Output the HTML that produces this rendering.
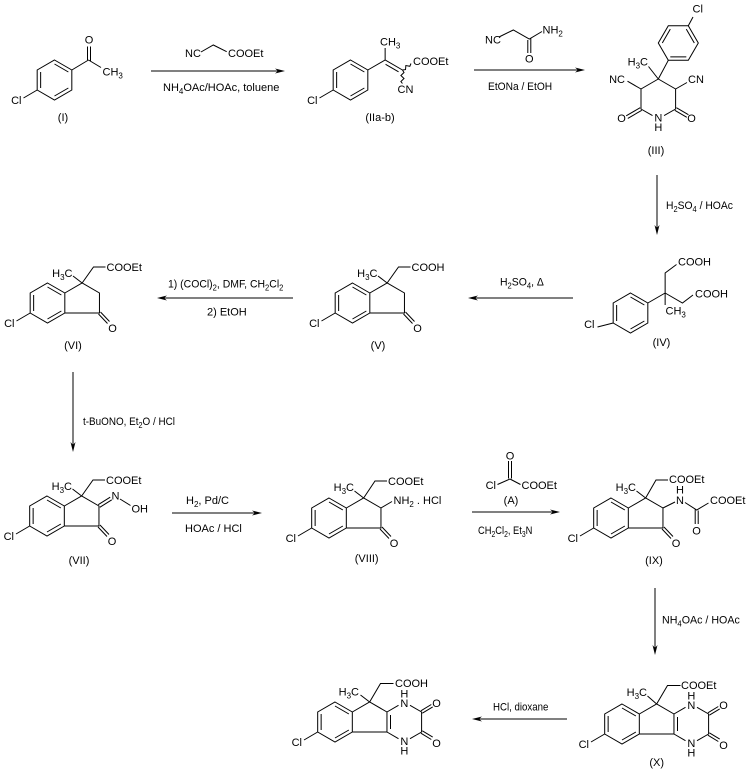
<!DOCTYPE html>
<html><head><meta charset="utf-8"><style>
html,body{margin:0;padding:0;background:#fff;}
svg{display:block;}
text{font-family:"Liberation Sans",Arial,sans-serif;font-size:11px;fill:#000;white-space:pre;}
.s{font-size:8px;}
.ln{stroke:#000;stroke-width:1;fill:none;}
.ah{fill:#000;stroke:none;}
</style></head><body>
<svg width="747" height="771" viewBox="0 0 747 771" xmlns="http://www.w3.org/2000/svg">

<!-- ===== Compound I ===== -->
<g transform="translate(54.5,80)">
<g class="ln">
<polygon points="0,-20 17.32,-10 17.32,10 0,20 -17.32,10 -17.32,-10"/>
<path d="M-13.86,-8L-13.86,8M0,-16L13.86,-8M13.86,8L0,16"/>
<path d="M-17.32,10L-31,18"/>
<path d="M17.32,-10L34,-20M33,-20L33,-33.5M36,-19L36,-33.5M34,-20L46.5,-12.5"/>
</g>
<text x="-33" y="24" text-anchor="end">Cl</text>
<text x="34.5" y="-36.5" text-anchor="middle">O</text>
<text x="48" y="-4.5">CH<tspan class="s" dy="3">3</tspan></text>
</g>
<text x="63" y="121" text-anchor="middle">(I)</text>

<!-- Arrow 1 -->
<g class="ln"><path d="M151,71L278,71M201,52L213.3,45L226.7,51.7"/></g>
<polygon class="ah" points="285,71 275,68.5 278,71 275,73.5"/>
<text x="185" y="57">NC</text>
<text x="228" y="57">COOEt</text>
<text x="163" y="91">NH<tspan class="s" dy="3">4</tspan><tspan dy="-3">OAc/HOAc, toluene</tspan></text>

<!-- ===== Compound IIa-b ===== -->
<g transform="translate(350.5,80)">
<g class="ln">
<polygon points="0,-20 17.32,-10 17.32,10 0,20 -17.32,10 -17.32,-10"/>
<path d="M-13.86,-8L-13.86,8M0,-16L13.86,-8M13.86,8L0,16"/>
<path d="M-17.32,10L-31,18"/>
<path d="M17.32,-10L34.64,-20L51.96,-10M35.06,-15.72L48.04,-8.22M34.64,-20L34.64,-32"/>
<polyline points="51.96,-10 55.02,-10.44 55.35,-14.46 59.32,-13.71 60.5,-16.5"/>
<polyline points="51.96,-10 53.5,-7.5 50.4,-4.5 53.5,-1.5 50.4,1.5 51.96,3.5"/>
</g>
<text x="-33" y="24" text-anchor="end">Cl</text>
<text x="29.5" y="-34.5">CH<tspan class="s" dy="3">3</tspan></text>
<text x="62.5" y="-15">COOEt</text>
<text x="47" y="13">CN</text>
</g>
<text x="380" y="121" text-anchor="middle">(IIa-b)</text>

<!-- Arrow 2 -->
<g class="ln"><path d="M474,70L578,70M499,37L513.3,30L529.3,39L542,31.5M527.8,40L527.8,53M530.8,38.5L530.8,53"/></g>
<polygon class="ah" points="585,70 575,67.5 578,70 575,72.5"/>
<text x="485" y="43.3">NC</text>
<text x="542.5" y="33.3">NH<tspan class="s" dy="3">2</tspan></text>
<text x="529.3" y="62.3" text-anchor="middle">O</text>
<text transform="translate(488,90) scale(0.93,1)">EtONa / EtOH</text>

<!-- ===== Compound III ===== -->
<g class="ln">
<path d="M658.3,79L641,89L641,109L652.5,115.6M664.1,115.6L675.6,109L675.6,89L658.3,79"/>
<path d="M641.8,110.3L627.8,118.4M640.2,107.7L626.2,115.8"/>
<path d="M674.8,110.3L686.8,117.3M676.4,107.7L688.4,114.7"/>
<path d="M641,89L627.5,81.2M675.6,89L687,82.5M658.3,79L648.5,66.5M658.3,79L668.3,60.3"/>
<polygon points="688.3,25.7 698.3,43 688.3,60.3 668.3,60.3 658.3,43 668.3,25.7"/>
<path d="M662.3,43L670.3,29.1M686.3,29.1L694.3,43M686.3,56.9L670.3,56.9"/>
<path d="M688.3,25.7L693,17"/>
</g>
<text x="692.5" y="12.5">Cl</text>
<text x="648" y="65.7" text-anchor="end">H<tspan class="s" dy="3">3</tspan><tspan dy="-3">C</tspan></text>
<text x="625" y="83" text-anchor="end">NC</text>
<text x="688" y="83">CN</text>
<text x="658.3" y="121.5" text-anchor="middle">N</text>
<text x="658.3" y="131" text-anchor="middle">H</text>
<text x="621.5" y="122" text-anchor="middle">O</text>
<text x="691.5" y="122" text-anchor="middle">O</text>
<text x="656" y="154" text-anchor="middle">(III)</text>

<!-- Arrow 3 (down) -->
<g class="ln"><path d="M657,175L657,228"/></g>
<polygon class="ah" points="657,235 654.5,225 657,228 659.5,225"/>
<text transform="translate(666,209) scale(0.94,1)">H<tspan class="s" dy="3">2</tspan><tspan dy="-3">SO</tspan><tspan class="s" dy="3">4</tspan><tspan dy="-3"> / HOAc</tspan></text>

<!-- ===== Compound IV ===== -->
<g transform="translate(630.5,313)">
<g class="ln">
<polygon points="0,-20 17.32,-10 17.32,10 0,20 -17.32,10 -17.32,-10"/>
<path d="M-13.86,-8L-13.86,8M0,-16L13.86,-8M13.86,8L0,16"/>
<path d="M-17.32,10L-33,14"/>
<path d="M17.32,-10L34.64,-20L34.64,-40L46,-48.5M34.64,-20L51.96,-10L62.5,-18M34.64,-20L34.64,-8"/>
</g>
<text x="-36" y="15" text-anchor="end">Cl</text>
<text x="47.5" y="-47.3">COOH</text>
<text x="64.5" y="-15.7">COOH</text>
<text x="35" y="1.5">CH<tspan class="s" dy="3">3</tspan></text>
</g>
<text x="661.5" y="346" text-anchor="middle">(IV)</text>

<!-- Arrow 4 (left) -->
<g class="ln"><path d="M573,298L475,298"/></g>
<polygon class="ah" points="468,298 478,295.5 475,298 478,300.5"/>
<text transform="translate(500,285.7) scale(0.95,1)">H<tspan class="s" dy="3">2</tspan><tspan dy="-3">SO</tspan><tspan class="s" dy="3">4</tspan><tspan dy="-3">, Δ</tspan></text>

<!-- ===== Compound V ===== -->
<g transform="translate(352.5,303)">
<g class="ln">
<polygon points="0,-20 17.32,-10 17.32,10 0,20 -17.32,10 -17.32,-10"/>
<path d="M-13.86,-8L-13.86,8M0,-16L13.86,-8M13.86,8L0,16"/>
<polyline points="17.32,-10 34.64,-20 51.96,-10 51.96,10 17.32,10"/>
<path d="M-17.32,10L-31,18M34.64,-20L25.5,-27M34.64,-20L46,-36L58,-36M53,9L62,18.5M51,11L60,20.5"/>
</g>
<text x="-33" y="24" text-anchor="end">Cl</text>
<text x="25" y="-26" text-anchor="end">H<tspan class="s" dy="3">3</tspan><tspan dy="-3">C</tspan></text>
<text x="59" y="-32">COOH</text>
<text x="65" y="29" text-anchor="middle">O</text>
</g>
<text x="378" y="349" text-anchor="middle">(V)</text>

<!-- Arrow 5 (left) -->
<g class="ln"><path d="M293,298L164,298"/></g>
<polygon class="ah" points="157,298 167,295.5 164,298 167,300.5"/>
<text transform="translate(168,287.3) scale(0.95,1)">1) (COCl)<tspan class="s" dy="3">2</tspan><tspan dy="-3">, DMF, CH</tspan><tspan class="s" dy="3">2</tspan><tspan dy="-3">Cl</tspan><tspan class="s" dy="3">2</tspan></text>
<text x="207" y="315.7">2) EtOH</text>

<!-- ===== Compound VI ===== -->
<g transform="translate(47.5,303)">
<g class="ln">
<polygon points="0,-20 17.32,-10 17.32,10 0,20 -17.32,10 -17.32,-10"/>
<path d="M-13.86,-8L-13.86,8M0,-16L13.86,-8M13.86,8L0,16"/>
<polyline points="17.32,-10 34.64,-20 51.96,-10 51.96,10 17.32,10"/>
<path d="M-17.32,10L-31,18M34.64,-20L25.5,-27M34.64,-20L46,-36L58,-36M53,9L62,18.5M51,11L60,20.5"/>
</g>
<text x="-33" y="24" text-anchor="end">Cl</text>
<text x="25" y="-26" text-anchor="end">H<tspan class="s" dy="3">3</tspan><tspan dy="-3">C</tspan></text>
<text x="59" y="-32">COOEt</text>
<text x="65" y="29" text-anchor="middle">O</text>
</g>
<text x="73" y="349" text-anchor="middle">(VI)</text>

<!-- Arrow 6 (down) -->
<g class="ln"><path d="M73,372L73,445"/></g>
<polygon class="ah" points="73,452 70.5,442 73,445 75.5,442"/>
<text transform="translate(83,425) scale(0.9,1)">t-BuONO, Et<tspan class="s" dy="3">2</tspan><tspan dy="-3">O / HCl</tspan></text>

<!-- ===== Compound VII ===== -->
<g transform="translate(47,516)">
<g class="ln">
<polygon points="0,-20 17.32,-10 17.32,10 0,20 -17.32,10 -17.32,-10"/>
<path d="M-13.86,-8L-13.86,8M0,-16L13.86,-8M13.86,8L0,16"/>
<polyline points="17.32,-10 34.64,-20 51.96,-10 51.96,10 17.32,10"/>
<path d="M-17.32,10L-31,18M34.64,-20L25.5,-27M34.64,-20L46,-36L58,-36M53,9L62,18.5M51,11L60,20.5"/>
<path d="M52.8,-8.7L64.8,-16.2M51.2,-11.3L63.2,-18.8M73,-17L83.5,-10.5"/>
</g>
<text x="-33" y="24" text-anchor="end">Cl</text>
<text x="25" y="-26" text-anchor="end">H<tspan class="s" dy="3">3</tspan><tspan dy="-3">C</tspan></text>
<text x="59" y="-32">COOEt</text>
<text x="65" y="29" text-anchor="middle">O</text>
<text x="68.5" y="-16.5" text-anchor="middle">N</text>
<text x="84.5" y="-3.7">OH</text>
</g>
<text x="79" y="564" text-anchor="middle">(VII)</text>

<!-- Arrow 7 -->
<g class="ln"><path d="M172,513L255,513"/></g>
<polygon class="ah" points="262,513 252,510.5 255,513 252,515.5"/>
<text x="186" y="504">H<tspan class="s" dy="3">2</tspan><tspan dy="-3">, Pd/C</tspan></text>
<text x="185" y="532">HOAc / HCl</text>

<!-- ===== Compound VIII ===== -->
<g transform="translate(329,518)">
<g class="ln">
<polygon points="0,-20 17.32,-10 17.32,10 0,20 -17.32,10 -17.32,-10"/>
<path d="M-13.86,-8L-13.86,8M0,-16L13.86,-8M13.86,8L0,16"/>
<polyline points="17.32,-10 34.64,-20 51.96,-10 51.96,10 17.32,10"/>
<path d="M-17.32,10L-31,18M34.64,-20L25.5,-27M34.64,-20L46,-37L58,-37M53,9L62,18.5M51,11L60,20.5"/>
<path d="M51.96,-10L63,-16.5"/>
</g>
<text x="-33" y="24" text-anchor="end">Cl</text>
<text x="25" y="-27" text-anchor="end">H<tspan class="s" dy="3">3</tspan><tspan dy="-3">C</tspan></text>
<text x="59" y="-33">COOEt</text>
<text x="65" y="29" text-anchor="middle">O</text>
<text x="64.5" y="-14">NH<tspan class="s" dy="3">2</tspan><tspan dy="-3"> . HCl</tspan></text>
</g>
<text x="366.7" y="562" text-anchor="middle">(VIII)</text>

<!-- Arrow 8 with reagent A -->
<g class="ln"><path d="M472,512L553,512M508.5,461L508.5,478.5M511.5,461L511.5,478.5M510,479L497.5,484.5M510,479L520.5,484.5"/></g>
<polygon class="ah" points="560,512 550,509.5 553,512 550,514.5"/>
<text x="510" y="459.5" text-anchor="middle">O</text>
<text x="496" y="489" text-anchor="end">Cl</text>
<text x="521.5" y="489">COOEt</text>
<text x="511" y="504" text-anchor="middle">(A)</text>
<text transform="translate(478,534) scale(0.85,1)">CH<tspan class="s" dy="3">2</tspan><tspan dy="-3">Cl</tspan><tspan class="s" dy="3">2</tspan><tspan dy="-3">, Et</tspan><tspan class="s" dy="3">3</tspan><tspan dy="-3">N</tspan></text>

<!-- ===== Compound IX ===== -->
<g transform="translate(611,518)">
<g class="ln">
<polygon points="0,-20 17.32,-10 17.32,10 0,20 -17.32,10 -17.32,-10"/>
<path d="M-13.86,-8L-13.86,8M0,-16L13.86,-8M13.86,8L0,16"/>
<polyline points="17.32,-10 34.64,-20 51.96,-10 51.96,10 17.32,10"/>
<path d="M-17.32,10L-31,18M34.64,-20L25.5,-27M34.64,-20L45,-38L57,-38M53,9L62,18.5M51,11L60,20.5"/>
<path d="M51.96,-10L64,-16M74,-15.5L85.7,-8L97.5,-15M84.2,-8.5L84.2,6M87.2,-7.5L87.2,6"/>
</g>
<text x="-33" y="24" text-anchor="end">Cl</text>
<text x="25" y="-27" text-anchor="end">H<tspan class="s" dy="3">3</tspan><tspan dy="-3">C</tspan></text>
<text x="58" y="-35">COOEt</text>
<text x="65" y="29" text-anchor="middle">O</text>
<text x="69" y="-14" text-anchor="middle">N</text>
<text x="69" y="-24.7" text-anchor="middle">H</text>
<text x="85.5" y="16.5" text-anchor="middle">O</text>
<text x="99" y="-14">COOEt</text>
</g>
<text x="654" y="564" text-anchor="middle">(IX)</text>

<!-- Arrow 9 (down) -->
<g class="ln"><path d="M655,588L655,648"/></g>
<polygon class="ah" points="655,655 652.5,645 655,648 657.5,645"/>
<text transform="translate(662,623.3) scale(0.97,1)">NH<tspan class="s" dy="3">4</tspan><tspan dy="-3">OAc / HOAc</tspan></text>

<!-- ===== Compound X ===== -->
<g transform="translate(622,724)">
<g class="ln">
<polygon points="0,-20 17.32,-10 17.32,10 0,20 -17.32,10 -17.32,-10"/>
<path d="M-13.86,-8L-13.86,8M0,-16L13.86,-8M13.86,8L0,16"/>
<polyline points="17.32,-10 34.64,-20 51.96,-10 51.96,10 17.32,10"/>
<path d="M55.5,-7L55.5,7"/>
<path d="M51.96,-10L63.5,-16.7M75,-16.7L86.6,-10L86.6,10L75,16.7M63.5,16.7L51.96,10"/>
<path d="M87.3,-8.8L97.7,-15.1M85.9,-11.2L96.3,-17.5M87.3,8.8L97.7,15.1M85.9,11.2L96.3,17.5"/>
<path d="M-17.32,10L-31,18M34.64,-20L25.5,-28M34.64,-20L45.5,-38.5L58.5,-38.5"/>
</g>
<text x="-33" y="24" text-anchor="end">Cl</text>
<text x="25" y="-28" text-anchor="end">H<tspan class="s" dy="3">3</tspan><tspan dy="-3">C</tspan></text>
<text x="59" y="-35">COOEt</text>
<text x="69.3" y="-15" text-anchor="middle">N</text>
<text x="69.3" y="-24.5" text-anchor="middle">H</text>
<text x="69.3" y="23" text-anchor="middle">N</text>
<text x="69.3" y="32.5" text-anchor="middle">H</text>
<text x="101.5" y="-15" text-anchor="middle">O</text>
<text x="101.5" y="25" text-anchor="middle">O</text>
</g>
<text x="656.7" y="766" text-anchor="middle">(X)</text>

<!-- Arrow 10 (left) -->
<g class="ln"><path d="M567,719L479,719"/></g>
<polygon class="ah" points="472,719 482,716.5 479,719 482,721.5"/>
<text transform="translate(493,710.7) scale(0.88,1)">HCl, dioxane</text>

<!-- ===== Final product ===== -->
<g transform="translate(335,722)">
<g class="ln">
<polygon points="0,-20 17.32,-10 17.32,10 0,20 -17.32,10 -17.32,-10"/>
<path d="M-13.86,-8L-13.86,8M0,-16L13.86,-8M13.86,8L0,16"/>
<polyline points="17.32,-10 34.64,-20 51.96,-10 51.96,10 17.32,10"/>
<path d="M55.5,-7L55.5,7"/>
<path d="M51.96,-10L63.5,-16.7M75,-16.7L86.6,-10L86.6,10L75,16.7M63.5,16.7L51.96,10"/>
<path d="M87.3,-8.8L97.7,-15.1M85.9,-11.2L96.3,-17.5M87.3,8.8L97.7,15.1M85.9,11.2L96.3,17.5"/>
<path d="M-17.32,10L-31,18M34.64,-20L25.5,-27M34.64,-20L45.5,-38.5L58.5,-38.5"/>
</g>
<text x="-33" y="24" text-anchor="end">Cl</text>
<text x="24" y="-26.5" text-anchor="end">H<tspan class="s" dy="3">3</tspan><tspan dy="-3">C</tspan></text>
<text x="60" y="-35">COOH</text>
<text x="69.3" y="-15" text-anchor="middle">N</text>
<text x="69.3" y="-24.5" text-anchor="middle">H</text>
<text x="69.3" y="23" text-anchor="middle">N</text>
<text x="69.3" y="32.5" text-anchor="middle">H</text>
<text x="101.5" y="-15" text-anchor="middle">O</text>
<text x="101.5" y="25" text-anchor="middle">O</text>
</g>

</svg>
</body></html>
